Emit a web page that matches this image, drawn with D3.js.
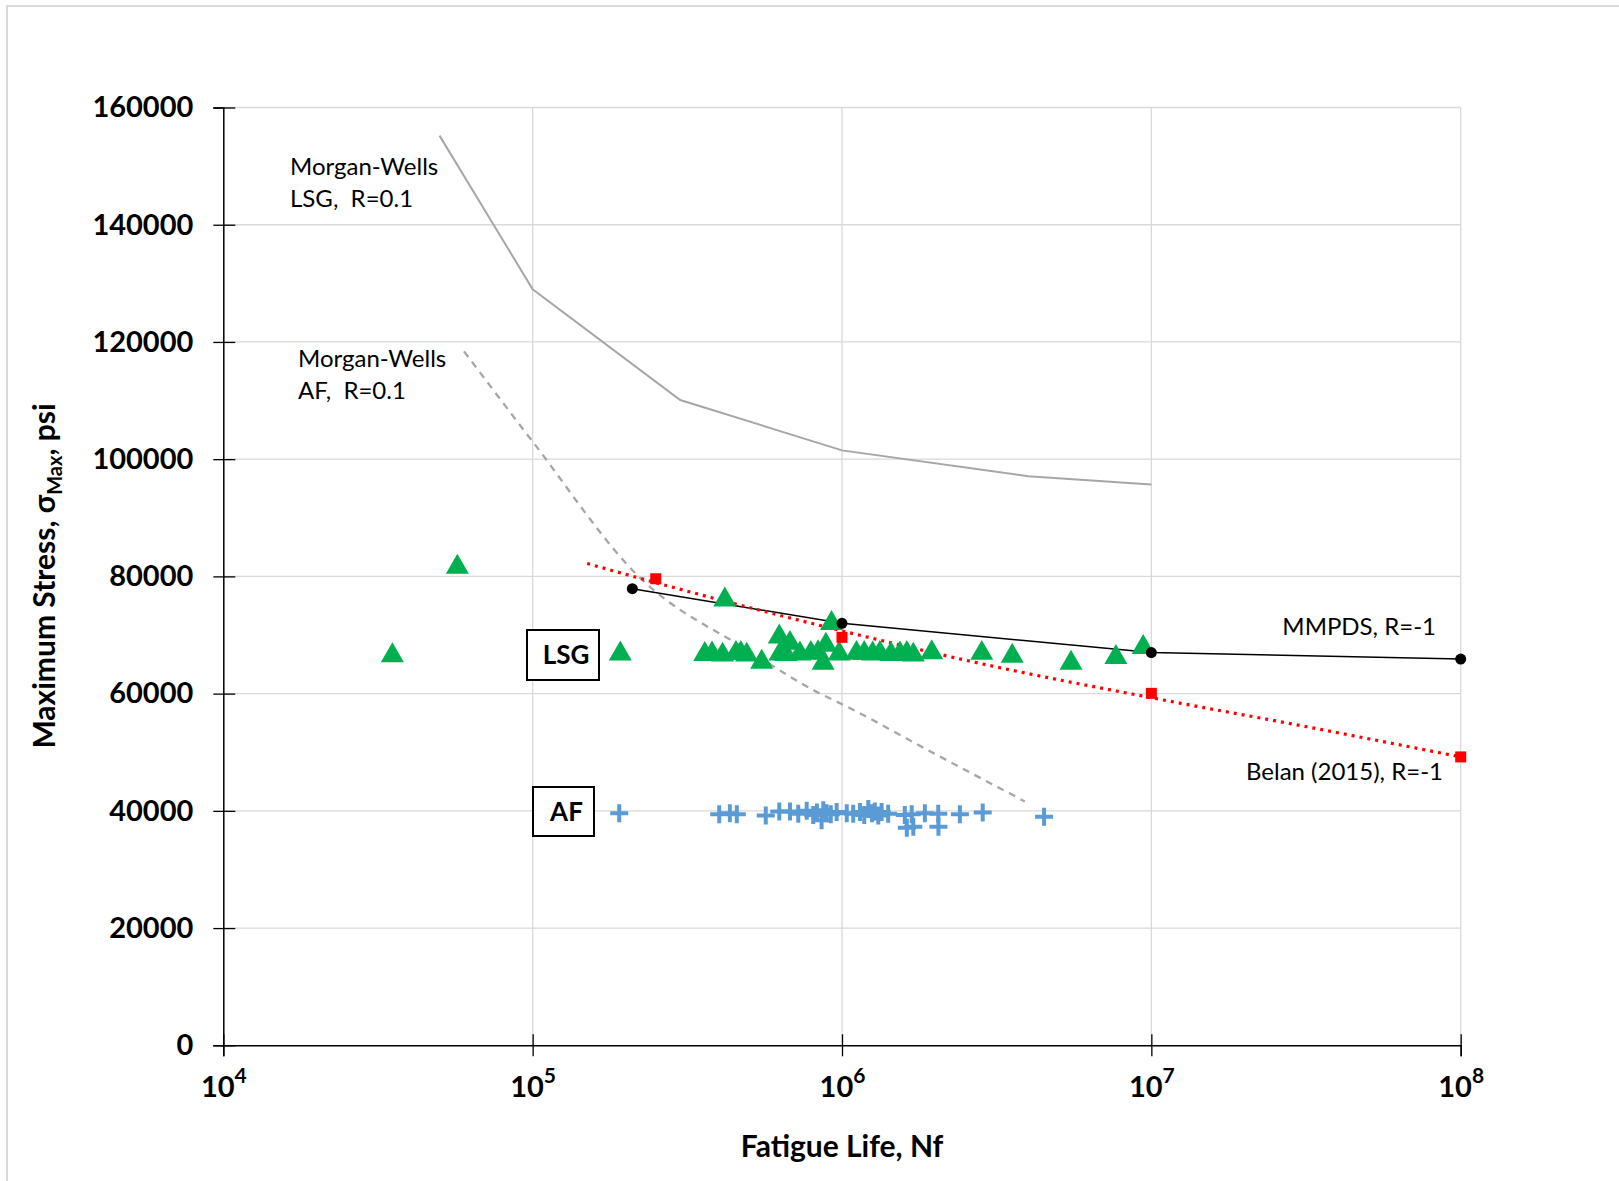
<!DOCTYPE html>
<html>
<head>
<meta charset="utf-8">
<script src="https://cdn.jsdelivr.net/npm/d3@7"></script>
<style>
  body { margin: 0; background: #fff; }
  text { font-family: Lato, "Open Sans", sans-serif; white-space: pre; }
</style>
</head>
<body>
<script>
// LSG test data (green triangles): cycles, max stress
const lsgN = [35200, 57100, 192000, 360000, 380000, 411000, 418000, 454000, 471000, 492000,
  550000, 627000, 630000, 659000, 679000, 731000, 793000, 837000, 869000, 887000,
  925000, 979000, 1114000, 1180000, 1256000, 1326000, 1440000, 1540000, 1620000, 1700000,
  1950000, 2830000, 3550000, 5500000, 7680000, 9410000]
const lsgS = [66500, 81600, 66800, 66700, 66800, 66600, 76000, 66900, 66900, 66600,
  65400, 69700, 66800, 66700, 68600, 66800, 66900, 67000, 65200, 68300,
  72000, 66800, 66900, 66900, 66800, 66900, 66700, 66800, 66900, 66600,
  67000, 66900, 66400, 65200, 66200, 67900]

// AF test data (blue crosses)
const afN = [190500, 401000, 434000, 457000, 567000, 627000, 679000, 722000, 769000, 807000,
  830000, 859000, 870000, 892000, 920000, 961000, 1036000, 1087000, 1143000, 1180000,
  1216000, 1250000, 1277000, 1310000, 1343000, 1410000, 1596000, 1620000, 1680000, 1700000,
  1853000, 2047000, 2050000, 2405000, 2850000, 4500000]
const afS = [39600, 39400, 39600, 39400, 39200, 39900, 39900, 39500, 40000, 39300,
  39700, 38400, 40100, 39600, 39400, 39800, 39600, 39500, 39800, 39300,
  40300, 39600, 39900, 39200, 39800, 39500, 39300, 37100, 39400, 37300,
  39600, 39500, 37300, 39400, 39700, 39000]

// Morgan-Wells curves, R=0.1
const mwLsgN = [50000, 100000, 300000, 1000000, 4000000, 10000000]
const mwLsgS = [155200, 129000, 110100, 101500, 97100, 95700]
const mwAfN = [60000, 100000, 220000, 500000, 850000, 1000000, 2000000, 3900000]
const mwAfS = [118400, 103000, 80000, 67300, 60000, 58200, 49700, 41600]

// MMPDS, R=-1
const mmpdsN = [210000, 1000000, 10000000, 100000000]
const mmpdsS = [77900, 72000, 67000, 65900]

// Belan (2015), R=-1 : points and fitted curve
const belanN = [250000, 1000000, 10000000, 100000000]
const belanS = [79600, 69600, 60050, 49200]
const belanFitN = [150000, 300000, 1000000, 3000000, 10000000, 30000000, 100000000]
const belanFitS = [82200, 77800, 70700, 64800, 59300, 54600, 49200]

const yTicks = [0, 20000, 40000, 60000, 80000, 100000, 120000, 140000, 160000]
const xTicks = [1e4, 1e5, 1e6, 1e7, 1e8]

const W = 1619, H = 1181
const svg = d3.select("body").append("svg").attr("width", W).attr("height", H)

// outer chart border
svg.append("rect").attr("x", 7).attr("y", 6).attr("width", W + 20).attr("height", H + 20)
  .attr("fill", "none").attr("stroke", "#d9d9d9").attr("stroke-width", 2)

const x = d3.scaleLog().domain([1e4, 1e8]).range([223.3, 1460.7])
const y = d3.scaleLinear().domain([0, 160000]).range([1045.3, 107.5])

// grid
svg.append("g").selectAll("line").data(yTicks.slice(1)).enter().append("line")
  .attr("x1", x(1e4)).attr("x2", x(1e8))
  .attr("y1", d => y(d)).attr("y2", d => y(d))
  .attr("stroke", "#d9d9d9").attr("stroke-width", 1.3)
svg.append("g").selectAll("line").data(xTicks.slice(1)).enter().append("line")
  .attr("x1", d => x(d)).attr("x2", d => x(d))
  .attr("y1", y(0)).attr("y2", y(160000))
  .attr("stroke", "#d9d9d9").attr("stroke-width", 1.3)

// y axis
const yAxis = svg.append("g").attr("transform", `translate(${x(1e4)},0)`)
  .call(d3.axisLeft(y).tickValues(yTicks).tickSize(10).tickFormat(d3.format("d")))
yAxis.select(".domain").attr("stroke", "#000").attr("stroke-width", 1.5)
yAxis.selectAll(".tick line").attr("x1", -10).attr("x2", 12).attr("stroke", "#000").attr("stroke-width", 1.3)
yAxis.selectAll(".tick text").attr("font-family", "Lato").attr("font-size", 29)
  .attr("font-weight", "bold").attr("fill", "#000").attr("x", -30)

// x axis
const xAxis = svg.append("g").attr("transform", `translate(0,${y(0)})`)
  .call(d3.axisBottom(x).tickValues(xTicks).tickSize(11).tickFormat(""))
xAxis.select(".domain").attr("stroke", "#000").attr("stroke-width", 1.5)
xAxis.selectAll(".tick line").attr("y1", -11).attr("y2", 11).attr("stroke", "#000").attr("stroke-width", 1.3)
const xl = xAxis.selectAll(".tick").append("text")
  .attr("y", 52).attr("fill", "#000").attr("text-anchor", "middle")
  .attr("font-size", 29).attr("font-weight", "bold")
xl.append("tspan").text("10")
xl.append("tspan").attr("dy", -14).attr("font-size", 21).text(d => Math.round(Math.log10(d)))

// axis titles
svg.append("text").attr("x", 842).attr("y", 1157).attr("text-anchor", "middle")
  .attr("font-size", 30).attr("font-weight", "bold").text("Fatigue Life, Nf")
const yt = svg.append("text").attr("transform", "translate(55,576) rotate(-90)")
  .attr("text-anchor", "middle").attr("font-size", 30).attr("font-weight", "bold")
yt.append("tspan").text("Maximum Stress, σ")
yt.append("tspan").attr("dy", 7).attr("font-size", 20).text("Max")
yt.append("tspan").attr("dy", -7).text(", psi")

const line = d3.line().x(d => x(d[0])).y(d => y(d[1]))
const smooth = d3.line().x(d => x(d[0])).y(d => y(d[1])).curve(d3.curveMonotoneX)

// Morgan-Wells LSG
svg.append("path").datum(d3.zip(mwLsgN, mwLsgS)).attr("d", line)
  .attr("fill", "none").attr("stroke", "#a6a6a6").attr("stroke-width", 2)
// Morgan-Wells AF
svg.append("path").datum(d3.zip(mwAfN, mwAfS)).attr("d", smooth)
  .attr("fill", "none").attr("stroke", "#a6a6a6").attr("stroke-width", 2.3)
  .attr("stroke-dasharray", "7,6")

// MMPDS
svg.append("path").datum(d3.zip(mmpdsN, mmpdsS)).attr("d", line)
  .attr("fill", "none").attr("stroke", "#000").attr("stroke-width", 1.5)

// Belan fit (dotted)
svg.append("path").datum(d3.zip(belanFitN, belanFitS)).attr("d", smooth)
  .attr("fill", "none").attr("stroke", "#ff0000").attr("stroke-width", 3.2)
  .attr("stroke-dasharray", "3,5")

// LSG triangles
svg.append("g").selectAll("path").data(d3.zip(lsgN, lsgS)).enter().append("path")
  .attr("d", d3.symbol(d3.symbolTriangle, 230))
  .attr("transform", d => `translate(${x(d[0])},${y(d[1])})`)
  .attr("fill", "#00b050")

// AF crosses
svg.append("g").selectAll("path").data(d3.zip(afN, afS)).enter().append("path")
  .attr("d", "M-9,0H9M0,-9V9")
  .attr("transform", d => `translate(${x(d[0])},${y(d[1])})`)
  .attr("stroke", "#5b9bd5").attr("stroke-width", 4).attr("fill", "none")

// MMPDS markers
svg.append("g").selectAll("circle").data(d3.zip(mmpdsN, mmpdsS)).enter().append("circle")
  .attr("cx", d => x(d[0])).attr("cy", d => y(d[1])).attr("r", 5.5).attr("fill", "#000")

// Belan markers
svg.append("g").selectAll("rect").data(d3.zip(belanN, belanS)).enter().append("rect")
  .attr("x", d => x(d[0]) - 5.5).attr("y", d => y(d[1]) - 5.5)
  .attr("width", 11).attr("height", 11).attr("fill", "#ff0000")

// annotations
function label(tx, ty, lines, anchor) {
  const t = svg.append("text").attr("font-size", 24).attr("fill", "#000")
    .attr("text-anchor", anchor || "start")
  lines.forEach((s, i) => t.append("tspan").attr("x", tx).attr("y", ty + i * 32).text(s))
}
label(290, 175, ["Morgan-Wells", "LSG,  R=0.1"])
label(298, 367, ["Morgan-Wells", "AF,  R=0.1"])
label(1436, 635, ["MMPDS, R=-1"], "end")
label(1443, 780, ["Belan (2015), R=-1"], "end")

function box(x0, y0, w, h, s) {
  svg.append("rect").attr("x", x0).attr("y", y0).attr("width", w).attr("height", h)
    .attr("fill", "#fff").attr("stroke", "#000").attr("stroke-width", 2)
  svg.append("text").attr("x", x0 + w / 2 + 3).attr("y", y0 + h / 2 + 9)
    .attr("text-anchor", "middle").attr("font-size", 26).attr("font-weight", "bold").text(s)
}
box(527, 630, 72, 50, "LSG")
box(533, 787, 61, 49, "AF")
</script>
</body>
</html>
